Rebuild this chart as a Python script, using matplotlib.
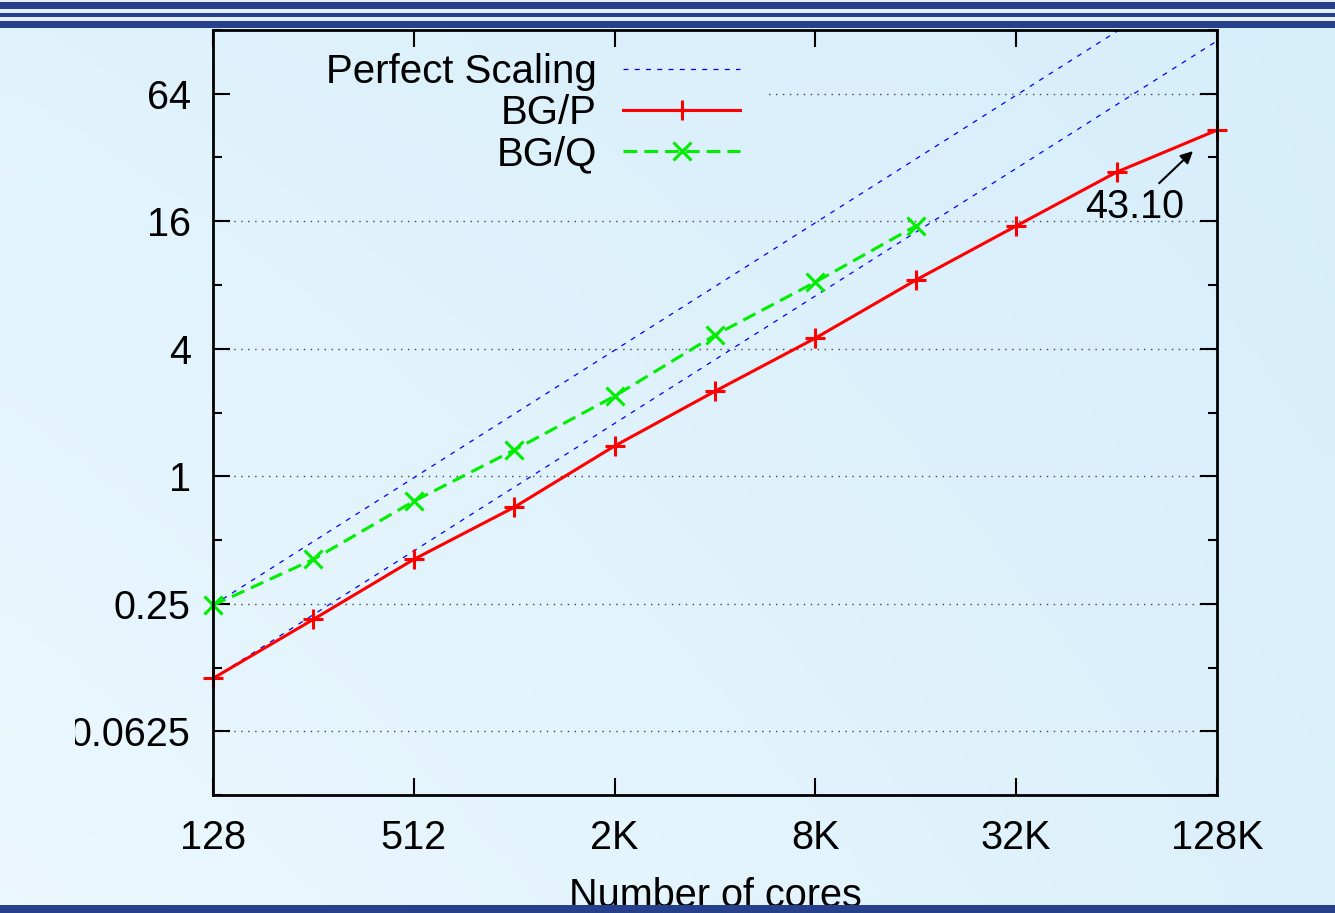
import matplotlib
matplotlib.use("Agg")
import matplotlib.pyplot as plt
import numpy as np
from matplotlib.patches import Rectangle
from matplotlib.ticker import FixedLocator, NullLocator, FixedFormatter, NullFormatter
from matplotlib.transforms import Bbox

plt.rcParams['font.family'] = ['Liberation Sans', 'DejaVu Sans']

# data
cores_p = [128, 256, 512, 1024, 2048, 4096, 8192, 16384, 32768, 65536, 131072]
bgp = [0.111, 0.211, 0.405, 0.714, 1.39, 2.52, 4.49, 8.44, 15.2, 27.3, 43.10]
cores_q = [128, 256, 512, 1024, 2048, 4096, 8192, 16384]
bgq = [0.246, 0.405, 0.762, 1.33, 2.39, 4.64, 8.26, 15.2]

xticks = [128, 512, 2048, 8192, 32768, 131072]
xlabels = ['128', '512', '2K', '8K', '32K', '128K']
yticks = [0.0625, 0.25, 1, 4, 16, 64]
ylabels = ['0.0625', '0.25', '1', '4', '16', '64']
yminor = [0.03125, 0.125, 0.5, 2, 8, 32, 128]

# perfect scaling from the first point of each machine
perf_p = [bgp[0] * c / cores_p[0] for c in cores_p]
perf_q = [bgq[0] * c / cores_q[0] for c in cores_p]

W, H = 1335, 913
fig = plt.figure(figsize=(W / 100, H / 100), dpi=100)

# slide background gradient (corners: bottom-left, bottom-right, top-left, top-right)
bl = np.array([0.925, 0.973, 0.996])
br = np.array([0.862, 0.943, 0.985])
tl = np.array([0.878, 0.951, 0.989])
tr = np.array([0.840, 0.932, 0.984])
u = np.linspace(0, 1, 64)[None, :, None]
v = np.linspace(0, 1, 64)[:, None, None]
grad = (1 - v) * ((1 - u) * bl + u * br) + v * ((1 - u) * tl + u * tr)
bg = fig.add_axes([0, 0, 1, 1], zorder=-10)
bg.imshow(grad, extent=[0, 1, 0, 1], aspect='auto', interpolation='bilinear', origin='lower')
bg.axis('off')


def band(top, bottom, color):
    fig.add_artist(Rectangle((0, 1 - bottom / H), 1, (bottom - top) / H,
                             transform=fig.transFigure, facecolor=color,
                             edgecolor='none', zorder=10))


dark = '#26408c'
band(0, 28, '#e4f1fa')
band(2, 9, dark)
band(13, 17, dark)
band(21, 28, dark)
band(905, 913, dark)

ax = fig.add_axes([213 / W, 1 - 795 / H, (1217 - 213) / W, (795 - 30) / H])
ax.set_facecolor('none')
ax.set_xscale('log', base=2)
ax.set_yscale('log', base=2)

ax.plot(cores_p, perf_q, color='#0000ff', lw=0.9, dashes=(4, 5), label='Perfect Scaling', zorder=2)
ax.plot(cores_p, perf_p, color='#0000ff', lw=0.9, dashes=(4, 5), zorder=2)
ax.plot(cores_p, bgp, color='#ff0000', lw=2.2, marker='+', ms=14, mew=2.2, label='BG/P',
        zorder=3, clip_on=False)
ax.plot(cores_q, bgq, color='#00ee00', lw=2.2, dashes=(4.5, 2.3), marker='x', ms=13, mew=2.2,
        label='BG/Q', zorder=3, clip_on=False)

ax.set_xlim(128, 131072)
ax.set_ylim(0.03125, 128)

ax.xaxis.set_major_locator(FixedLocator(xticks))
ax.xaxis.set_major_formatter(FixedFormatter(xlabels))
ax.xaxis.set_minor_locator(NullLocator())
ax.yaxis.set_major_locator(FixedLocator(yticks))
ax.yaxis.set_major_formatter(FixedFormatter(ylabels))
ax.yaxis.set_minor_locator(FixedLocator(yminor))
ax.yaxis.set_minor_formatter(NullFormatter())

ax.tick_params(which='both', direction='in', top=True, right=True, width=1.5, labelsize=28.5)
ax.tick_params(which='major', length=12)
ax.tick_params(which='minor', length=6.5)
ax.tick_params(axis='x', pad=17)
ax.tick_params(axis='y', pad=16)
for s in ax.spines.values():
    s.set_linewidth(2)
    s.set_zorder(4)

ax.set_axisbelow(True)
ax.grid(True, axis='y', which='major', color='#444444', lw=1.0, linestyle=(0, (1, 4)))

ax.set_xlabel('Number of cores', fontsize=28.5, labelpad=15)

ax.annotate('43.10', xy=(111000, 34.3), xytext=(74000, 18.7), ha='center', va='center',
            fontsize=28.5, zorder=4,
            arrowprops=dict(arrowstyle='-|>', color='black', lw=1.5, mutation_scale=18,
                            shrinkA=2, shrinkB=0))

leg = ax.legend(loc='upper right', bbox_to_anchor=(740 / W, 1 - 53 / H),
                bbox_transform=fig.transFigure, markerfirst=False, frameon=False,
                fontsize=29, handlelength=2.9, handletextpad=0.65, labelspacing=0.08,
                borderpad=0, borderaxespad=0)

fig.canvas.draw()
# the key hides the 64 grid line where it sits
ax.yaxis.get_major_ticks()[-1].gridline.set_clip_box(Bbox.from_extents(765, 0, W, H))
# left edge of the picture crops the lowest label
for lab in ax.get_yticklabels():
    lab.set_clip_box(Bbox.from_extents(75, 0, W, H))
    lab.set_clip_on(True)

fig.savefig('out.png', dpi=100)
